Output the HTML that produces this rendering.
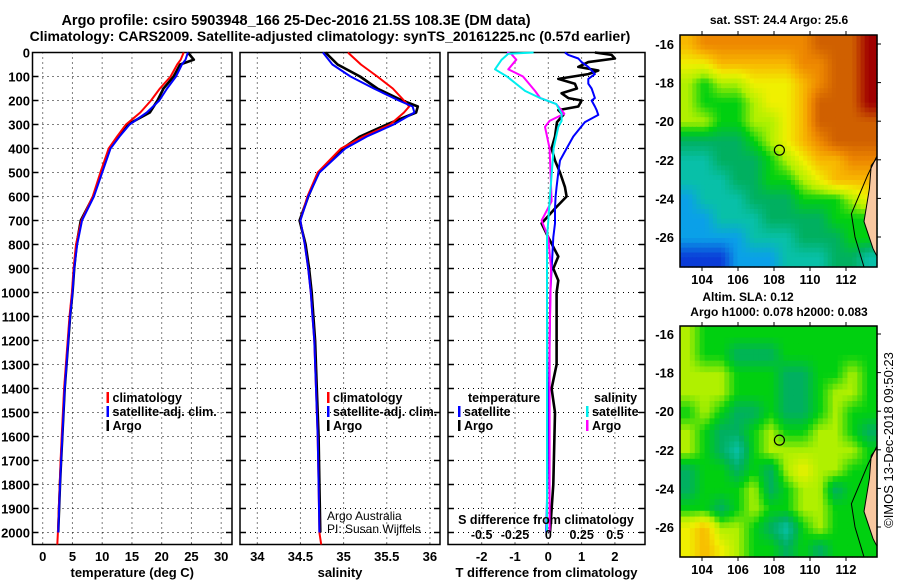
<!DOCTYPE html>
<html><head><meta charset="utf-8"><style>
html,body{margin:0;padding:0;background:#fff;}
svg{display:block;font-family:"Liberation Sans",Arial,sans-serif;}
.b{font-weight:bold;}
</style></head><body>
<svg id="svg" width="900" height="580" viewBox="0 0 900 580" xmlns="http://www.w3.org/2000/svg">
<text x="296" y="25" text-anchor="middle" class="b" font-size="14.5">Argo profile: csiro 5903948_166 25-Dec-2016 21.5S 108.3E (DM data)</text>
<text x="330" y="41" text-anchor="middle" class="b" font-size="14">Climatology: CARS2009. Satellite-adjusted climatology: synTS_20161225.nc (0.57d earlier)</text>
<text x="779" y="24" text-anchor="middle" class="b" font-size="12">sat. SST: 24.4 Argo: 25.6</text>
<text x="748" y="301" text-anchor="middle" class="b" font-size="12">Altim. SLA: 0.12</text>
<text x="779" y="316" text-anchor="middle" class="b" font-size="12">Argo h1000: 0.078 h2000: 0.083</text>
<text transform="translate(893,440) rotate(-90)" text-anchor="middle" font-size="13">©IMOS 13-Dec-2018 09:50:23</text>
<g id="plots"></g>
</svg>
<script>
// ---------- data ----------
const tDepth   = [0,30,50,100,150,200,250,300,350,400,500,600,700,800,900,1000,1100,1200,1300,1400,1500,1600,1700,1800,1900,2000,2050];
const tClim    = [23.7,23.2,22.6,21.5,19.7,18.2,16.4,14.0,12.5,11.1,9.7,8.4,6.5,5.6,5.2,4.9,4.5,4.2,3.9,3.6,3.4,3.2,3.0,2.85,2.7,2.55,2.45];
const tSat     = [24.4,24.0,23.4,22.4,20.9,19.6,17.5,14.6,12.9,11.4,10.0,8.6,6.6,5.8,5.3,5.0,4.6,4.3,4.0,3.7,3.5,3.3,3.1,2.9,2.75,2.6];
const tArgo    = [24.4,25.4,23.1,22.0,20.3,19.3,18.0,14.3,12.8,11.3,9.9,8.5,6.4,5.7,5.3,5.0,4.6,4.3,4.0,3.7,3.5,3.3,3.1,2.9,2.75,2.6];
const sDepth   = [0,50,100,150,200,225,250,300,350,400,500,600,700,800,900,1000,1100,1200,1400,1600,1800,2000,2050];
const sClim    = [35.05,35.2,35.39,35.57,35.7,35.76,35.7,35.54,35.23,34.97,34.70,34.58,34.50,34.55,34.59,34.62,34.64,34.66,34.68,34.70,34.71,34.72,34.74];
const sSat     = [34.76,34.87,35.08,35.35,35.64,35.8,35.82,35.58,35.27,35.02,34.72,34.59,34.50,34.55,34.59,34.62,34.64,34.66,34.68,34.70,34.71,34.72];
const sArgo    = [34.79,34.93,35.19,35.39,35.68,35.86,35.84,35.5,35.19,34.99,34.71,34.59,34.49,34.56,34.60,34.63,34.65,34.67,34.69,34.71,34.72,34.73];
const dDepth   = [0,10,25,40,60,75,90,110,130,150,170,190,200,225,240,260,290,350,400,450,500,560,600,650,712,770,850,900,950,1000,1300,1400,1500,1800,2000];
const dtArgo   = [1.4,1.9,2.0,1.2,0.9,1.5,1.2,0.3,0.8,0.86,0.4,0.6,1.0,0.9,0.3,0.45,0.26,0.2,0.1,0.2,0.35,0.5,0.55,0.2,-0.2,0.0,0.3,0.15,0.3,0.25,0.25,0.1,0.2,0.15,0.05];
const dtSat    = [0.5,0.6,0.9,1.0,1.2,1.3,1.4,1.2,1.2,1.3,1.35,1.4,1.3,1.4,1.45,1.5,1.1,0.75,0.55,0.35,0.3,0.25,0.22,0.2,0.2,0.15,0.12,0.1,0.08,0.06,0.03,0.02,0.0,-0.03,-0.06];
const sdDepth  = [0,5,30,70,100,160,190,215,255,285,310,400,620,700,770,900,1200,2000];
const dsArgo   = [-0.31,-0.28,-0.24,-0.3,-0.19,-0.1,-0.06,0.06,0.12,0.01,-0.025,0.01,0.025,-0.05,0.0,0.02,0.01,0.01];
const dsSat    = [-0.11,-0.3,-0.35,-0.4,-0.31,-0.175,-0.06,0.06,0.1,0.1,0.075,0.04,0.01,0.0,-0.01,-0.01,-0.01,-0.01];
const tTicks   = [0,5,10,15,20,25,30];
const sTicks   = [34,34.5,35,35.5,36];
const dTicks   = [-2,-1,0,1,2];
const sdTicks  = [-0.5,-0.25,0,0.25,0.5];
const depthTicks = [0,100,200,300,400,500,600,700,800,900,1000,1100,1200,1300,1400,1500,1600,1700,1800,1900,2000];
const lonTicks = [104,106,108,110,112];
const latTicks = [-16,-18,-20,-22,-24,-26];
const sstGrid = [
[8,9,9,9,9,9,9,9,10,10,10,11],
[7,7,8,8,8,8,8,9,9,10,10,11],
[6,5,6,6,7,7,7,8,9,10,10,11],
[6,5,5,5,6,7,7,8,10,10,10,11],
[6,6,5,5,6,6,7,8,10,10,10,10],
[4,4,4,4,5,6,7,8,9,10,10,10],
[3,3,4,4,4,5,6,7,8,8,9,9],
[3,3,3,4,4,5,5,6,7,8,8,8],
[2,3,3,3,4,4,4,5,5,5,6,7],
[2,2,3,3,3,4,4,4,4,5,5,5],
[2,2,2,2,3,3,3,4,4,4,5,5],
[1,1,1,2,2,2,3,3,3,4,4,3]];
const slaGrid = [
[6,5,5,5,5,5,5,5,5,5,5,5],
[6,5,5,4,4,4,5,5,5,5,5,5],
[6,6,6,5,5,5,4,4,5,5,6,5],
[6,6,6,5,5,5,4,4,5,6,6,5],
[5,6,5,4,4,5,4,4,5,6,5,5],
[6,5,4,4,5,6,5,5,6,6,5,4],
[6,5,4,3,5,6,6,6,6,6,6,5],
[4,5,5,4,5,4,6,7,6,6,5,5],
[4,5,5,5,6,4,5,6,6,4,5,5],
[5,5,4,5,6,5,5,6,6,5,5,5],
[7,8,6,6,5,4,3,5,6,5,5,5],
[7,8,7,6,5,5,4,5,4,5,5,5]];
const floatLon = 108.3, floatLat = -21.5;

// ---------- helpers ----------
const NS='http://www.w3.org/2000/svg';
const root=document.getElementById('plots');
function mk(tag,attrs,parent){const e=document.createElementNS(NS,tag);for(const k in attrs)e.setAttribute(k,attrs[k]);(parent||root).appendChild(e);return e;}
const TOP=52.5, BOT=544.5;
const yD=d=>TOP+d*0.24;
const xT=v=>42.7+5.95*v;
const xS=v=>257.3+86.3*(v-34);
const xDT=v=>548.3+33.3*v;
const xDS=v=>548.3+133.3*v;

function panel(name,x0,x1,xTicks,xf,labels,xtitle,showY){
  const g=mk('g',{});
  
  
  for(const d of depthTicks){ if(d===0) continue;
    const l=mk('line',{x1:x0,x2:x1,y1:yD(d),y2:yD(d),stroke:'#000','stroke-width':1,'stroke-dasharray':'1,4'},g);
     
    mk('line',{x1:x0,x2:x0+6,y1:yD(d),y2:yD(d),stroke:'#000','stroke-width':1.5},g);
    mk('line',{x1:x1-6,x2:x1,y1:yD(d),y2:yD(d),stroke:'#000','stroke-width':1.5},g);
  }
  xTicks.forEach((t,i)=>{const x=xf(t);
    const l=mk('line',{x1:x,x2:x,y1:TOP,y2:BOT,stroke:'#000','stroke-width':1,'stroke-dasharray':'1,4'},g);
     
    const tx=mk('text',{x:x,y:561,'text-anchor':'middle','font-size':13,'font-weight':'bold'},g);
    tx.textContent=labels[i];
     
  });
  const r=mk('rect',{x:x0,y:TOP,width:x1-x0,height:BOT-TOP,fill:'none',stroke:'#000','stroke-width':1.5},g);
   
  const xt=mk('text',{x:(x0+x1)/2,y:577,'text-anchor':'middle','font-size':13,'font-weight':'bold'},g);
  xt.textContent=xtitle;
   
  if(showY){for(const d of depthTicks){
    const t=mk('text',{x:30,y:yD(d)+5,'text-anchor':'end','font-size':13,'font-weight':'bold'},g);
    t.textContent=d;
     
  }}
  return g;
}
function line(depths,vals,xf,color,w,name){
  const pts=vals.map((v,i)=>xf(v).toFixed(1)+','+yD(depths[i]).toFixed(1)).join(' ');
  const p=mk('polyline',{points:pts,fill:'none',stroke:color,'stroke-width':w,'stroke-linejoin':'round'});
  
  
}
function legend(x,y,items){
  items.forEach((it,i)=>{
    if(it.c){const b=mk('rect',{x:x,y:y+i*14-10,width:2.5,height:11,fill:it.c});
       }
    const t=mk('text',{x:x+(it.c?6:0),y:y+i*14,'font-size':12.5,'font-weight':'bold'});
    t.textContent=it.t;
     
  });
}

// panel 1 temperature
panel('temperature-panel',32.5,232,tTicks,xT,tTicks.map(String),'temperature (deg C)',true);
line(tDepth,tArgo,xT,'#000',2.6,'temp-argo-line');
line(tDepth,tClim,xT,'#f00',2,'temp-climatology-line');
line(tDepth.slice(0,tSat.length),tSat,xT,'#00f',2,'temp-satellite-line');
legend(106.5,402,[{c:'#f00',t:'climatology'},{c:'#00f',t:'satellite-adj. clim.'},{c:'#000',t:'Argo'}]);

// panel 2 salinity
panel('salinity-panel',240,440,sTicks,xS,['34','34.5','35','35.5','36'],'salinity',false);
line(sDepth.slice(0,sArgo.length),sArgo,xS,'#000',2.6,'sal-argo-line');
line(sDepth,sClim,xS,'#f00',2,'sal-climatology-line');
line(sDepth.slice(0,sSat.length),sSat,xS,'#00f',2,'sal-satellite-line');
legend(327,402,[{c:'#f00',t:'climatology'},{c:'#00f',t:'satellite-adj. clim.'},{c:'#000',t:'Argo'}]);
const a1=mk('text',{x:327,y:520,'font-size':12}); a1.textContent='Argo Australia';
 
const a2=mk('text',{x:327,y:533,'font-size':12}); a2.textContent='PI: Susan Wijffels';
 

// panel 3 differences
panel('difference-panel',448,645,dTicks,xDT,['-2','-1','0','1','2'],'T difference from climatology',false);
line(dDepth,dtArgo,xDT,'#000',2.6,'tdiff-argo-line');
line(dDepth,dtSat,xDT,'#00f',2,'tdiff-satellite-line');
line(sdDepth,dsArgo,xDS,'#f0f',2,'sdiff-argo-line');
line(sdDepth,dsSat,xDS,'#0ee',2,'sdiff-satellite-line');
legend(468,402,[{t:'temperature'}]);
legend(458,416,[{c:'#00f',t:'satellite'},{c:'#000',t:'Argo'}]);
legend(594,402,[{t:'salinity'}]);
legend(586,416,[{c:'#0ee',t:'satellite'},{c:'#f0f',t:'Argo'}]);
const st=mk('text',{x:546,y:524,'text-anchor':'middle','font-size':12.5,'font-weight':'bold'}); st.textContent='S difference from climatology';
 
sdTicks.forEach(v=>{const t=mk('text',{x:xDS(v),y:539,'text-anchor':'middle','font-size':12.5,'font-weight':'bold'}); t.textContent=String(v);
   });

// maps
const cmap=[[0,0,122],[10,60,216],[10,160,232],[8,192,168],[0,176,96],[0,208,16],[176,240,0],[240,240,0],[248,184,0],[238,136,0],[208,96,0],[160,0,0]];
function colorAt(v){const i=Math.max(0,Math.min(10,Math.floor(v)));const f=Math.max(0,Math.min(1,v-i));
  const a=cmap[i],b=cmap[i+1];return 'rgb('+a.map((c,k)=>Math.round(c+(b[k]-c)*f)).join(',')+')';}
function sample(grid,r,c){const R=grid.length,C=grid[0].length;
  const rr=Math.max(0,Math.min(R-1,r)),cc=Math.max(0,Math.min(C-1,c));
  const r0=Math.floor(rr),c0=Math.floor(cc),r1=Math.min(R-1,r0+1),c1=Math.min(C-1,c0+1),fr=rr-r0,fc=cc-c0;
  return grid[r0][c0]*(1-fr)*(1-fc)+grid[r0][c1]*(1-fr)*fc+grid[r1][c0]*fr*(1-fc)+grid[r1][c1]*fr*fc;}
function map(name,x0,y0,x1,y1,lat16y,lat26y,grid,N){
  const g=mk('g',{});
   
  const lonX=l=>702+(l-104)*18;
  const latY=l=>lat16y+(-16-l)*(lat26y-lat16y)/10;
  const rows=grid.length, cols=grid[0].length, cw=(x1-x0)/N, ch=(y1-y0)/N;
  for(let r=0;r<N;r++)for(let c=0;c<N;c++){
    const v=sample(grid,(r+0.5)/N*rows-0.5,(c+0.5)/N*cols-0.5);
    const rc=mk('rect',{x:(x0+c*cw).toFixed(2),y:(y0+r*ch).toFixed(2),width:(cw+0.6).toFixed(2),height:(ch+0.6).toFixed(2),fill:colorAt(v)},g);
     
  }
  const land=mk('path',{d:`M${x1},${latY(-21.9)} L${lonX(113.4)},${latY(-22.3)} L${lonX(113.3)},${latY(-23.5)} L${lonX(113.0)},${latY(-25.2)} L${lonX(113.5)},${latY(-26.6)} L${x1},${latY(-27.0)} Z`,fill:'#f8c8a0',stroke:'#000','stroke-width':1},g);
   
  const iso=mk('path',{d:`M${x1},${latY(-21.8)} L${lonX(113.2)},${latY(-22.8)} L${lonX(112.3)},${latY(-24.8)} L${lonX(112.5)},${latY(-26.0)} L${lonX(113.0)},${y1}`,fill:'none',stroke:'#000','stroke-width':1},g);
   
  const ci=mk('circle',{cx:lonX(floatLon),cy:latY(floatLat),r:5,fill:'none',stroke:'#000','stroke-width':1.2},g);
   
  mk('rect',{x:x0,y:y0,width:x1-x0,height:y1-y0,fill:'none',stroke:'#000','stroke-width':1.5},g);
  lonTicks.forEach(l=>{const x=lonX(l);
    mk('line',{x1:x,x2:x,y1:y0,y2:y0-4,stroke:'#000','stroke-width':1},g);
    mk('line',{x1:x,x2:x,y1:y1,y2:y1+4,stroke:'#000','stroke-width':1},g);
    const t=mk('text',{x:x,y:y1+17,'text-anchor':'middle','font-size':13,'font-weight':'bold'},g); t.textContent=l;
     });
  latTicks.forEach(l=>{const y=latY(l);
    mk('line',{x1:x1,x2:x1+4,y1:y,y2:y,stroke:'#000','stroke-width':1},g);
    const t=mk('text',{x:x0-6,y:y+5,'text-anchor':'end','font-size':13,'font-weight':'bold'},g); t.textContent=l;
     });
}
map('sst-map',680,35,877,267,44,237,sstGrid,48);
map('sla-map',680,326,877,557,334,527,slaGrid,40);
</script>
</body></html>
